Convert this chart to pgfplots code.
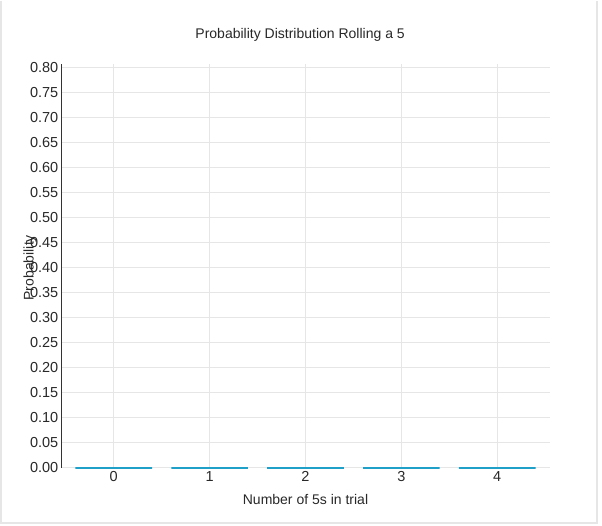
\documentclass[border=0pt]{standalone}
\usepackage{pgfplots}
\pgfplotsset{compat=1.18}
\usepackage{fontspec}
\setmainfont{Liberation Sans}
\definecolor{barc}{RGB}{30,160,200}
\definecolor{gridc}{RGB}{230,230,230}
\definecolor{txt}{RGB}{40,40,40}
\begin{document}
\begin{tikzpicture}[x=1pt,y=1pt]
\path (0,0) rectangle (602,525);
\draw[gridc, line width=1.5pt] (1,525) -- (1,3) -- (597,3) -- (597,525);
\begin{axis}[
  set layers=standard,
  at={(61pt,58pt)}, anchor=south west,
  scale only axis, width=489pt, height=404pt,
  xmin=-0.55, xmax=4.55, ymin=0, ymax=0.808,
  xtick={0,1,2,3,4},
  ytick={0,0.05,...,0.80},
  yticklabel style={/pgf/number format/fixed, /pgf/number format/fixed zerofill, /pgf/number format/precision=2},
  /pgf/number format/assume math mode=true,
  tick label style={font=\fontsize{14.5}{16}\selectfont, text=txt},
  yticklabel style={anchor=east, inner sep=0pt, xshift=-2.5pt},
  xticklabel style={anchor=north, inner sep=0pt, yshift=-3.5pt},
  major tick length=0pt,
  grid=major, major grid style={gridc, line width=0.8pt},
  axis x line*=bottom, axis y line*=left,
  x axis line style={gridc, line width=0.8pt, -},
  y axis line style={black!80, line width=0.8pt, -},
  title={Probability Distribution Rolling a 5},
  title style={at={(axis description cs:0.489,1.057)}, anchor=center, font=\fontsize{14}{16}\selectfont, text=txt},
  xlabel={Number of 5s in trial},
  xlabel style={at={(axis description cs:0.5,-0.079)}, anchor=center, font=\fontsize{14}{16}\selectfont, text=txt},
  ylabel={Probability},
  ylabel style={at={(axis description cs:-0.0634,0.495)}, anchor=center, font=\fontsize{14}{16}\selectfont, text=txt},
  bar width=0.8,
  every axis plot/.append style={on layer=axis foreground},
]
\addplot[ybar, draw=barc, fill=barc!25, line width=1.5pt] coordinates {(0,0) (1,0) (2,0) (3,0) (4,0)};
\end{axis}
\end{tikzpicture}
\end{document}
